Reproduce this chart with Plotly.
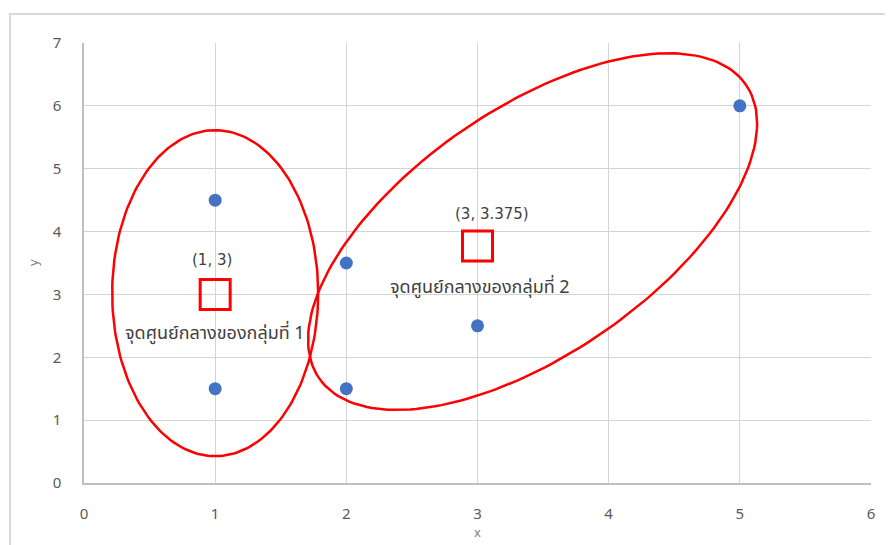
import numpy as np
import plotly.graph_objects as go

# Data points
px_x = [1, 1, 2, 2, 3, 5]
px_y = [4.5, 1.5, 3.5, 1.5, 2.5, 6]

# Centroid markers (as drawn) and labels
cent_x = [1, 3]
cent_y = [3, 3.77]
cent_labels = ["(1, 3)", "(3, 3.375)"]
group_labels = ["จุดศูนย์กลางของกลุ่มที่ 1", "จุดศูนย์กลางของกลุ่มที่ 2"]

x_ticks = [0, 1, 2, 3, 4, 5, 6]
y_ticks = [0, 1, 2, 3, 4, 5, 6, 7]

W, H = 893, 545
OFF = 8  # page body offset
L, T = 84 - OFF, 43 - OFF
plot_w, plot_h = 787, 440
R = W - L - plot_w
B = H - T - plot_h
sx = plot_w / 6.0   # px per x unit
sy = plot_h / 7.0   # px per y unit

def ellipse(cx, cy, a_px, b_px, ang_deg, n=200):
    t = np.linspace(0, 2 * np.pi, n)
    th = np.deg2rad(ang_deg)
    ex = a_px * np.cos(t) * np.cos(th) - b_px * np.sin(t) * np.sin(th)
    ey = a_px * np.cos(t) * np.sin(th) + b_px * np.sin(t) * np.cos(th)
    return cx + ex / sx, cy + ey / sy

e1x, e1y = ellipse(1.0, 3.02, 103, 163, 0)
e2x, e2y = ellipse(3.42, 4.0, 259, 123, 34.5)

fig = go.Figure()
fig.add_trace(go.Scatter(x=px_x, y=px_y, mode="markers",
                         marker=dict(color="#4472C4", size=13), hoverinfo="skip"))
fig.add_trace(go.Scatter(x=e1x, y=e1y, mode="lines",
                         line=dict(color="#FF0000", width=2.5), hoverinfo="skip"))
fig.add_trace(go.Scatter(x=e2x, y=e2y, mode="lines",
                         line=dict(color="#FF0000", width=2.5), hoverinfo="skip"))
fig.add_trace(go.Scatter(x=cent_x, y=cent_y, mode="markers",
                         marker=dict(symbol="square-open", size=30,
                                     color="#FF0000", line=dict(color="#FF0000", width=3)),
                         hoverinfo="skip"))

num_font = dict(family="DejaVu Sans, sans-serif", size=15, color="#404040")
thai_font = dict(family="Noto Sans, Noto Sans Thai, sans-serif", size=18, color="#404040")
fig.add_annotation(x=cent_x[0], y=cent_y[0], text=cent_labels[0], showarrow=False,
                   yshift=34, xshift=-3, font=num_font)
fig.add_annotation(x=cent_x[1], y=cent_y[1], text=cent_labels[1], showarrow=False,
                   yshift=32, xshift=14, font=num_font)
fig.add_annotation(x=cent_x[0], y=cent_y[0], text=group_labels[0], showarrow=False,
                   yshift=-38, font=thai_font)
fig.add_annotation(x=cent_x[1], y=cent_y[1], text=group_labels[1], showarrow=False,
                   yshift=-40, xshift=2, font=thai_font)

# axis titles
title_font = dict(family="Noto Sans, sans-serif", size=13, color="#7F7F7F")
fig.add_annotation(xref="paper", yref="paper", x=0.5, y=0, yshift=-49, yanchor="middle",
                   xanchor="center", text="x", showarrow=False, font=title_font)
fig.add_annotation(xref="paper", yref="paper", x=0, y=0.5, xshift=-51, xanchor="center",
                   yanchor="middle", text="y", textangle=-90, showarrow=False, font=title_font)

# outer chart frame
fig.add_shape(type="rect", xref="paper", yref="paper",
              x0=(10 - OFF - L) / plot_w, x1=(W + 20 - L) / plot_w,
              y0=-(H + 20 - (T + plot_h)) / plot_h, y1=(T + plot_h - (14 - OFF)) / plot_h,
              line=dict(color="#D9D9D9", width=2), layer="below")

tick_font = dict(family="Noto Sans, sans-serif", size=15, color="#595959")
fig.update_layout(
    width=W, height=H, margin=dict(l=L, r=R, t=T, b=B, autoexpand=False),
    paper_bgcolor="white", plot_bgcolor="white", showlegend=False,
    xaxis=dict(range=[0, 6], tickvals=x_ticks, showgrid=True, gridcolor="#D4D4D4",
               gridwidth=1.2, zeroline=False, showline=True, linecolor="#BFBFBF",
               linewidth=1.5, tickfont=tick_font, automargin=False,
               ticks="outside", ticklen=16, tickcolor="rgba(0,0,0,0)"),
    yaxis=dict(range=[0, 7], tickvals=y_ticks, showgrid=True, gridcolor="#D4D4D4",
               gridwidth=1.2, zeroline=False, showline=True, linecolor="#BFBFBF",
               linewidth=1.5, tickfont=tick_font, automargin=False,
               ticks="outside", ticklen=18, tickcolor="rgba(0,0,0,0)"),
)

fig.write_html("out.html")
